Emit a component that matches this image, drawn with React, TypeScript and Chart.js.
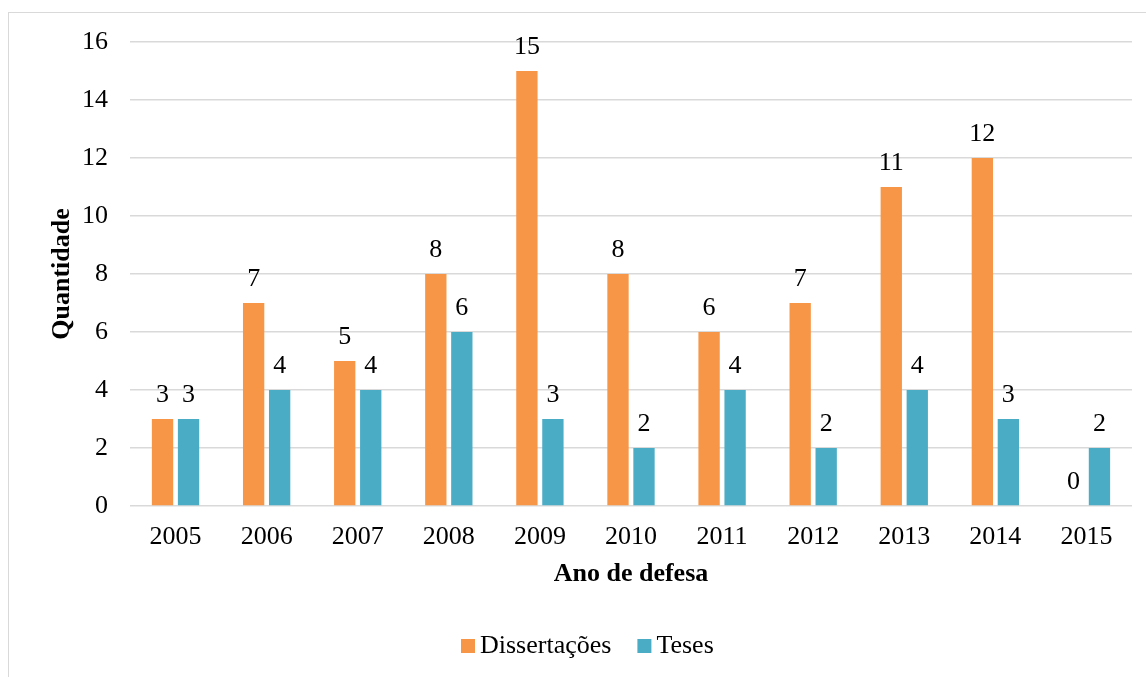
import React, { useEffect, useRef } from "react";
import { Chart, registerables } from "chart.js";

Chart.register(...registerables);

const years = ["2005", "2006", "2007", "2008", "2009", "2010", "2011", "2012", "2013", "2014", "2015"];
const dissertacoes = [3, 7, 5, 8, 15, 8, 6, 7, 11, 12, 0];
const teses = [3, 4, 4, 6, 3, 2, 4, 2, 4, 3, 2];
const seriesLabels = ["Dissertações", "Teses"];
const seriesColors = ["#F79646", "#4BACC6"];
const yTitle = "Quantidade";
const xTitle = "Ano de defesa";

const FONT = '"Liberation Serif", "Times New Roman", serif';

const dataLabelsPlugin = {
  id: "dataLabels",
  afterDatasetsDraw(chart: any) {
    const ctx = chart.ctx;
    ctx.save();
    ctx.font = `26px ${FONT}`;
    ctx.fillStyle = "#000";
    ctx.textAlign = "center";
    ctx.textBaseline = "alphabetic";
    chart.data.datasets.forEach((ds: any, i: number) => {
      const meta = chart.getDatasetMeta(i);
      meta.data.forEach((el: any, j: number) => {
        ctx.fillText(String(ds.data[j]), el.x, el.y - 17);
      });
    });
    ctx.restore();
  },
};

const legendPlugin = {
  id: "customLegend",
  afterDraw(chart: any) {
    const ctx = chart.ctx;
    ctx.save();
    ctx.font = `26px ${FONT}`;
    ctx.textAlign = "left";
    ctx.textBaseline = "alphabetic";
    const box = 14;
    const gap = 5;
    const itemGap = 26;
    let x = 452;
    const boxTop = 626;
    const baseline = 640;
    chart.data.datasets.forEach((ds: any) => {
      ctx.fillStyle = ds.backgroundColor;
      ctx.fillRect(x, boxTop, box, box);
      x += box + gap;
      ctx.fillStyle = "#000";
      ctx.fillText(ds.label, x, baseline);
      x += ctx.measureText(ds.label).width + itemGap;
    });
    ctx.restore();
  },
};

export default function App() {
  const canvasRef = useRef<HTMLCanvasElement | null>(null);

  useEffect(() => {
    if (!canvasRef.current) return;
    const chart = new Chart(canvasRef.current, {
      type: "bar",
      data: {
        labels: years,
        datasets: [
          {
            label: seriesLabels[0],
            data: dissertacoes,
            backgroundColor: seriesColors[0],
            categoryPercentage: 0.571,
            barPercentage: 0.82,
          },
          {
            label: seriesLabels[1],
            data: teses,
            backgroundColor: seriesColors[1],
            categoryPercentage: 0.571,
            barPercentage: 0.82,
          },
        ],
      },
      options: {
        animation: false,
        responsive: false,
        maintainAspectRatio: false,
        layout: { padding: { left: 0, right: 14, top: 29, bottom: 81 } },
        plugins: {
          legend: { display: false },
          tooltip: { enabled: false },
        },
        scales: {
          x: {
            grid: { display: false, drawTicks: false },
            border: { display: false },
            ticks: {
              color: "#000",
              padding: 16,
              font: { family: FONT, size: 26 },
              maxRotation: 0,
            },
            title: {
              display: true,
              text: xTitle,
              color: "#000",
              font: { family: FONT, size: 26, weight: "bold" },
              padding: { top: 0, bottom: 6 },
            },
            afterFit(scale: any) {
              scale.height = 90;
            },
          },
          y: {
            min: 0,
            max: 16,
            grid: { color: "#d9d9d9", lineWidth: 1.5, drawTicks: false },
            border: { display: false },
            ticks: {
              stepSize: 2,
              color: "#000",
              padding: 22,
              font: { family: FONT, size: 26 },
            },
            title: {
              display: true,
              text: yTitle,
              color: "#000",
              font: { family: FONT, size: 26, weight: "bold" },
              padding: { top: 38, bottom: 0 },
            },
            afterFit(scale: any) {
              scale.width = 121;
              scale.paddingTop = 0;
              scale.paddingBottom = 0;
            },
          },
        },
      },
      plugins: [dataLabelsPlugin, legendPlugin],
    } as any);
    return () => chart.destroy();
  }, []);

  return (
    <div
      style={{
        position: "fixed",
        left: 8,
        top: 12,
        width: 1138,
        height: 665,
        borderTop: "1px solid #d9d9d9",
        borderLeft: "1px solid #d9d9d9",
        boxSizing: "border-box",
        background: "#fff",
      }}
    >
      <canvas ref={canvasRef} width={1137} height={664} style={{ display: "block", width: 1137, height: 664 }} />
    </div>
  );
}
